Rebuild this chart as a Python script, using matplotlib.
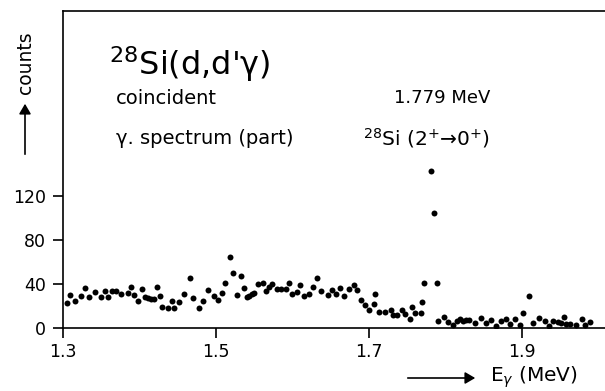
import matplotlib
matplotlib.use("Agg")
import matplotlib.pyplot as plt
from matplotlib.patches import FancyArrowPatch

plt.rcParams["font.family"] = ["DejaVu Sans"]
plt.rcParams["mathtext.fontset"] = "dejavusans"

# gamma-ray energy (MeV) and counts per channel
energy = [
    1.3048, 1.3092, 1.3157, 1.3231, 1.3284, 1.3344, 1.3422, 1.3497, 1.3545, 1.3592,
    1.3644, 1.3693, 1.3762, 1.3846, 1.3893, 1.3928, 1.3976, 1.4029, 1.4072, 1.4111,
    1.4154, 1.4186, 1.4225, 1.4268, 1.4298, 1.4376, 1.4421, 1.4451, 1.4520, 1.4578,
    1.4656, 1.4699, 1.4782, 1.4826, 1.4899, 1.4974, 1.5030, 1.5078, 1.5114, 1.5187,
    1.5222, 1.5271, 1.5327, 1.5366, 1.5405, 1.5435, 1.5471, 1.5501, 1.5545, 1.5614,
    1.5650, 1.5693, 1.5732, 1.5801, 1.5846, 1.5911, 1.5950, 1.5990, 1.6063, 1.6102,
    1.6146, 1.6220, 1.6268, 1.6320, 1.6373, 1.6468, 1.6512, 1.6565, 1.6617, 1.6669,
    1.6739, 1.6800, 1.6839, 1.6892, 1.6948, 1.7004, 1.7065, 1.7082, 1.7135, 1.7209,
    1.7284, 1.7310, 1.7370, 1.7435, 1.7475, 1.7532, 1.7562, 1.7601, 1.7684, 1.7689,
    1.7719, 1.7807, 1.7846, 1.7885, 1.7906, 1.7976, 1.8029, 1.8098, 1.8150, 1.8190,
    1.8235, 1.8270, 1.8311, 1.8386, 1.8460, 1.8525, 1.8595, 1.8656, 1.8722, 1.8787,
    1.8847, 1.8908, 1.8974, 1.9017, 1.9088, 1.9148, 1.9218, 1.9305, 1.9357, 1.9401,
    1.9467, 1.9506, 1.9545, 1.9575, 1.9631, 1.9706, 1.9780, 1.9827, 1.9889,
]
counts = [
    22.5, 30, 24.8, 29, 36.7, 28.5, 32.4, 28, 33.6, 28.5,
    33.6, 34, 30.6, 31.8, 37.6, 30, 24.5, 35, 28.5, 27.6,
    26.4, 26, 37.6, 29, 19.4, 18.5, 24.8, 18.5, 23.4, 30.6,
    45, 27, 18.5, 24.8, 34.5, 29.4, 25.5, 31.5, 41.2, 64.8,
    49.7, 29.7, 47, 36, 28.2, 29.4, 30.6, 31.5, 40, 41.2,
    33.4, 37, 40.3, 35.7, 35.7, 35.2, 40.6, 30.6, 33, 38.8,
    28.8, 31, 37, 45.5, 33.6, 30, 34.5, 30.6, 36, 29,
    35.5, 39, 34.3, 25.2, 21, 16.4, 21.5, 30.6, 14.5, 14.8,
    16, 11.5, 11.8, 16, 13, 8, 18.8, 13.9, 13.9, 23.4,
    40.6, 143, 104.5, 40.6, 6, 10.3, 5.5, 3, 6, 8.5,
    6, 7.5, 7.3, 4.2, 9.4, 4.2, 7.6, 2, 6.4, 8.5,
    3.6, 7.9, 3, 13.6, 29.4, 4.5, 9.1, 6.4, 2.1, 6,
    5.5, 4.8, 10, 3.6, 3.3, 3, 7.9, 2.5, 5.5,
]

xticks = [1.3, 1.5, 1.7, 1.9]
xtick_labels = ["1.3", "1.5", "1.7", "1.9"]
yticks = [0, 40, 80, 120]

W, H = 605, 391
fig = plt.figure(figsize=(W / 100, H / 100), dpi=100)


def fx(px):
    return px / W


def fy(py):
    return 1 - py / H


ax = fig.add_axes([fx(63), fy(328), fx(605) - fx(63), fy(11) - fy(328)])
ax.plot(energy, counts, "o", color="black", markersize=4.3, markeredgewidth=0)
ax.set_xlim(1.3, 2.0085)
ax.set_ylim(0, 288)
ax.set_xticks(xticks)
ax.set_xticklabels(xtick_labels)
ax.set_yticks(yticks)
ax.spines["right"].set_visible(False)
for s in ["left", "bottom", "top"]:
    ax.spines[s].set_linewidth(1.2)
ax.tick_params(direction="out", length=7, width=1.2, labelsize=12.5)
ax.tick_params(axis="y", pad=5)
ax.tick_params(axis="x", pad=4)

# annotations inside the frame
fig.text(fx(109), fy(64), "$^{28}$Si(d,d'γ)", fontsize=23, va="center", ha="left")
fig.text(fx(116), fy(98), "coincident", fontsize=14, va="center", ha="left")
fig.text(fx(116), fy(138), "γ. spectrum (part)", fontsize=14, va="center", ha="left")
fig.text(fx(394), fy(98), "1.779 MeV", fontsize=13, va="center", ha="left")
fig.text(fx(363), fy(138), "$^{28}$Si (2$^{+}$→0$^{+}$)", fontsize=14.5,
         va="center", ha="left")

# axis captions with arrows
fig.text(fx(25), fy(63), "counts", rotation=90, fontsize=13.5, va="center", ha="center")
fig.patches.append(FancyArrowPatch(
    (fx(25), fy(157)), (fx(25), fy(101)), transform=fig.transFigure,
    arrowstyle="-|>,head_length=6,head_width=3.5", color="black", lw=1.2,
    mutation_scale=1))
fig.patches.append(FancyArrowPatch(
    (fx(405), fy(378)), (fx(478), fy(378)), transform=fig.transFigure,
    arrowstyle="-|>,head_length=6,head_width=3.5", color="black", lw=1.2,
    mutation_scale=1))
fig.text(fx(490), fy(377), "E$_{\\gamma}$ (MeV)", fontsize=14.5, va="center", ha="left")

fig.savefig("out.png", dpi=100)
